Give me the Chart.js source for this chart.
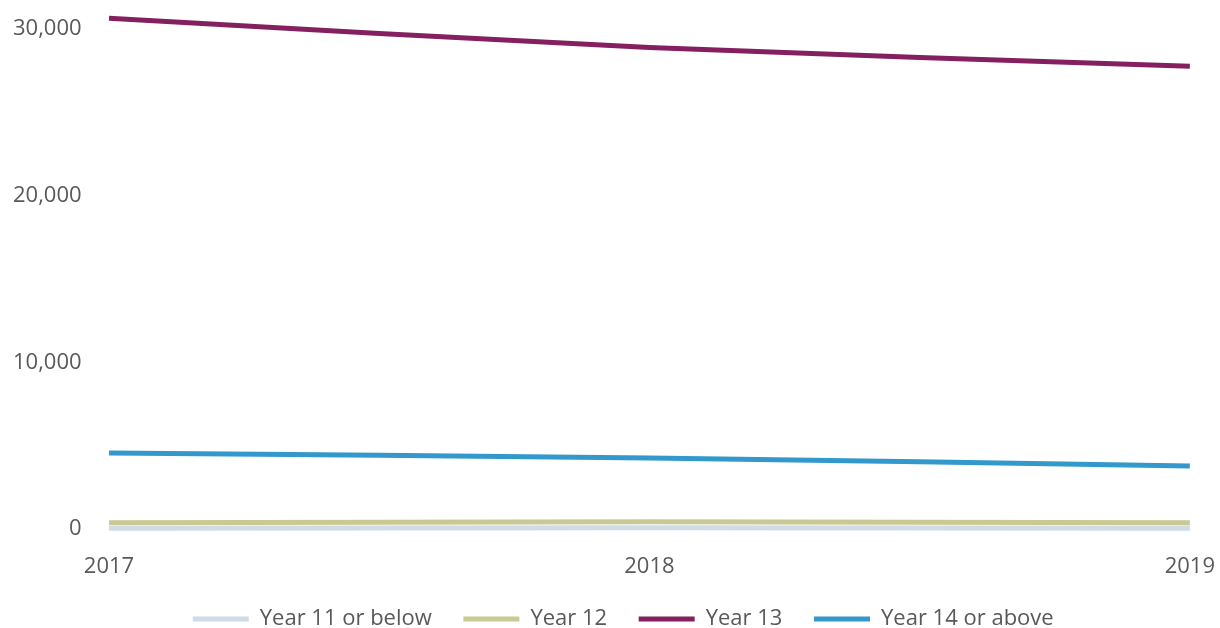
<!DOCTYPE html>
<html>
<head>
<meta charset="utf-8">
<script src="https://cdn.jsdelivr.net/npm/chart.js@4/dist/chart.umd.min.js"></script>
<style>
  html, body { margin: 0; padding: 0; background: #fff; }
  #wrap { width: 1220px; height: 628px; position: relative; }
</style>
</head>
<body>
<div id="wrap"><canvas id="chart"></canvas></div>
<script>
// Chart data
const years = ['2017', '2018', '2019'];
const year11OrBelow = [50, 70, 50];
const year12 = [370, 430, 380];
const year13 = [30650, 28900, 27780];
const year14OrAbove = [4560, 4260, 3780];

const textColor = '#595959';
const fontFamily = '"Open Sans", "Noto Sans", sans-serif';

const makeSeries = (label, data, color) => ({
    label: label,
    data: data,
    borderColor: color,
    backgroundColor: color,
    borderWidth: 5,
    pointRadius: 0,
    tension: 0.3,
    fill: false,
    clip: false
});

// nudge the legend a little to the right, like the original
const legendShift = {
    id: 'legendShift',
    afterLayout: (chart) => {
        chart.legend.left += 29;
        chart.legend.right += 29;
    }
};

const ctx = document.getElementById('chart').getContext('2d');
new Chart(ctx, {
    type: 'line',
    data: {
        labels: years,
        datasets: [
            makeSeries('Year 11 or below', year11OrBelow, '#cfdce8'),
            makeSeries('Year 12', year12, '#c9c994'),
            makeSeries('Year 13', year13, '#84205f'),
            makeSeries('Year 14 or above', year14OrAbove, '#3399cc')
        ]
    },
    plugins: [legendShift],
    options: {
        responsive: true,
        maintainAspectRatio: false,
        animation: false,
        layout: {
            padding: { top: 0, right: 0, bottom: -12, left: -3 }
        },
        plugins: {
            legend: {
                position: 'bottom',
                labels: {
                    usePointStyle: true,
                    pointStyle: 'line',
                    pointStyleWidth: 56,
                    color: textColor,
                    font: { family: fontFamily, size: 22 },
                    padding: 3,
                    // spacing between legend items comes from trailing spaces
                    generateLabels: (chart) => {
                        const items = Chart.defaults.plugins.legend.labels.generateLabels(chart);
                        items.forEach(item => { item.text = item.text + '     '; });
                        return items;
                    }
                }
            },
            tooltip: { enabled: false }
        },
        scales: {
            x: {
                offset: false,
                grid: { display: false, drawTicks: false },
                border: { display: false },
                ticks: {
                    color: textColor,
                    // tall line height pushes the year labels down
                    font: { family: fontFamily, size: 22, lineHeight: 3.0 },
                    padding: 5,
                    maxRotation: 0
                }
            },
            y: {
                min: 0,
                max: 30000,
                grid: { display: false, drawTicks: false },
                border: { display: false },
                ticks: {
                    stepSize: 10000,
                    color: textColor,
                    font: { family: fontFamily, size: 22 },
                    padding: 16,
                    callback: (v) => v.toLocaleString('en-US') + '  '
                }
            }
        }
    }
});
</script>
</body>
</html>
